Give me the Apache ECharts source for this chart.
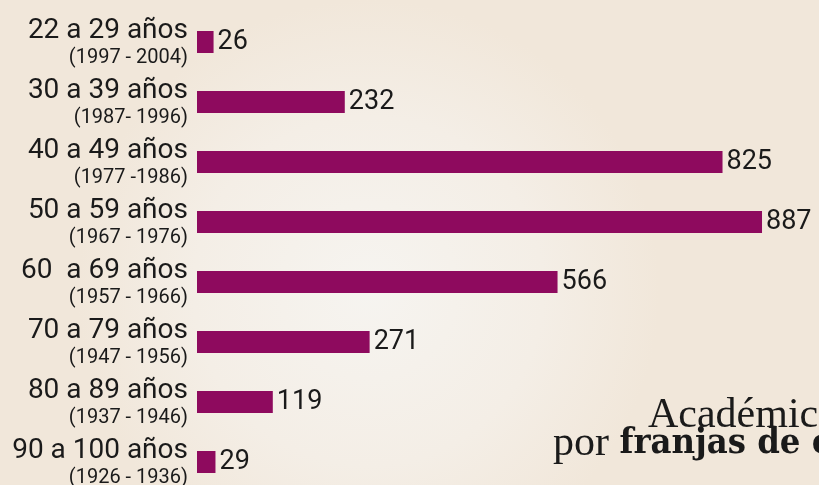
<!DOCTYPE html>
<html><head><meta charset="utf-8">
<script src="https://cdn.jsdelivr.net/npm/echarts@6/dist/echarts.min.js"></script>
<style>html,body{margin:0;padding:0;}#c{width:819px;height:485px;}</style>
</head><body><div id="c"></div>
<script>
const ageRanges = ['22 a 29 años','30 a 39 años','40 a 49 años','50 a 59 años','60  a 69 años','70 a 79 años','80 a 89 años','90 a 100 años'];
const birthYears = ['(1997 - 2004)','(1987- 1996)','(1977 -1986)','(1967 - 1976)','(1957 - 1966)','(1947 - 1956)','(1937 - 1946)','(1926 - 1936)'];
const academicos = [26, 232, 825, 887, 566, 271, 119, 29];
const titleLine1 = 'Académicos';
const titleLine2a = 'por ';
const titleLine2b = 'franjas de edad';

const categories = ageRanges.map((a, i) => a + '\n' + birthYears[i]);
const chart = echarts.init(document.getElementById('c'));
chart.setOption({
  backgroundColor: '#f2e9dd',
  animation: false,
  graphic: [
    { type: 'rect', z: -10, silent: true, shape: { x: 0, y: 0, width: 819, height: 485 },
      style: { fill: { type: 'radial', x: 0.45, y: 0.6, r: 0.6,
        colorStops: [{ offset: 0, color: '#f6f4f0' }, { offset: 0.6, color: '#f4eee6' }, { offset: 1, color: '#f1e7da' }] } } },
    { type: 'text', left: 648, top: 395, z: 10, style: { text: titleLine1, font: '400 42px "Liberation Serif", serif', fill: '#1a1a1a' } },
    { type: 'text', left: 553, top: 423, z: 10, style: {
      text: '{r|' + titleLine2a + '}{b|' + titleLine2b + '}',
      rich: {
        r: { font: '400 42px "Liberation Serif", serif', fill: '#1a1a1a' },
        b: { font: '700 36px "DejaVu Serif Condensed", "DejaVu Serif", serif', fill: '#1a1a1a' }
      } } }
  ],
  grid: { left: 197, top: 12, width: 637, height: 480, containLabel: false, outerBoundsMode: 'none' },
  xAxis: { type: 'value', min: 0, max: 1000, show: false },
  yAxis: {
    type: 'category', inverse: true, data: categories,
    axisLine: { show: false }, axisTick: { show: false },
    axisLabel: {
      margin: 9, align: 'right',
      formatter: function (v) { const p = v.split('\n'); return '{a|' + p[0] + '}\n{b|' + p[1] + '}'; },
      rich: {
        a: { fontFamily: 'Roboto', fontSize: 28, color: '#1a1a1a', lineHeight: 28, align: 'right' },
        b: { fontFamily: 'Roboto', fontSize: 20, color: '#1a1a1a', lineHeight: 22, align: 'right', padding: [4, 0, 0, 0] }
      }
    }
  },
  series: [{
    type: 'bar', data: academicos, barWidth: 22,
    itemStyle: { color: '#8e0a5e' },
    label: { show: true, position: 'right', distance: 4, fontFamily: 'Roboto', fontSize: 27, color: '#1a1a1a' }
  }]
});
</script></body></html>
